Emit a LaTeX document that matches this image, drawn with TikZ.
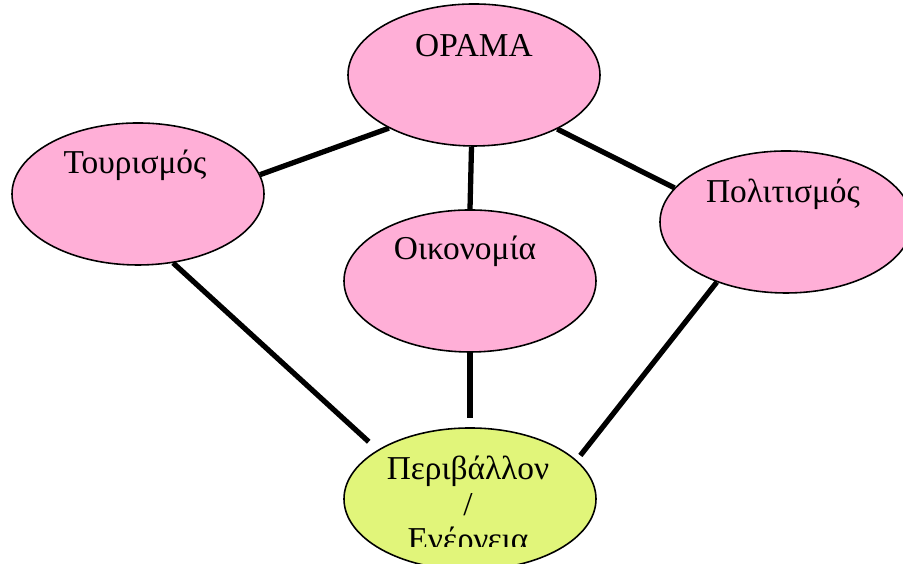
\documentclass[tikz,border=0pt]{standalone}
\usepackage{fontspec}
\setmainfont{Liberation Serif}
\usetikzlibrary{calc,backgrounds,shapes.geometric}
\definecolor{rosa}{RGB}{255,175,215}
\definecolor{kitrino}{RGB}{225,245,122}

\begin{document}
\begin{tikzpicture}[font=\fontsize{9.5}{10}\selectfont,
  bubble/.style={ellipse, draw, line width=0.45pt, fill=rosa,
    minimum width=2.52cm, minimum height=1.42cm, inner sep=0},
  link/.style={line width=1.5pt}]
\clip (0,0) rectangle (9.03,5.64);
\node[bubble] (orama) at (4.74,4.89) {};
\node[bubble] (tour) at (1.38,3.70) {};
\node[bubble] (oikon) at (4.70,2.83) {};
\node[bubble] (polit) at (7.86,3.42) {};
\node[bubble, fill=kitrino] (perib) at (4.70,0.65) {};
\node[anchor=base] (torama) at ($(orama.north)+(0,-0.53)$) {ΟΡΑΜΑ};
\node[anchor=base] (ttour) at ($(tour.north)+(-0.03,-0.51)$) {Τουρισμός};
\node[anchor=base] (toikon) at ($(oikon.north)+(-0.05,-0.50)$) {Οικονομία};
\node[anchor=base] (tpolit) at ($(polit.north)+(-0.03,-0.52)$) {Πολιτισμός};
\begin{scope}
\clip (0,0.17) rectangle (9.03,5.64);
\node[anchor=base, align=center, inner sep=0] (tperib) at ($(perib.north)+(-0.02,-1.23)$)
  {Περιβάλλον\\/\\Ενέργεια};
\end{scope}
\begin{scope}[on background layer]
\draw[link] (tour.9) -- (orama.212);
\draw[link] (orama.268) -- (oikon.north);
\draw[link] (orama.-33) -- (polit.163);
\draw[link, shorten >=0.12cm] (tour.-63) -- (perib.152);
\draw[link, shorten >=0.09cm] (oikon.south) -- (perib.north);
\draw[link, shorten >=0.06cm] (polit.221) -- (perib.20);
\end{scope}
\end{tikzpicture}
\end{document}
